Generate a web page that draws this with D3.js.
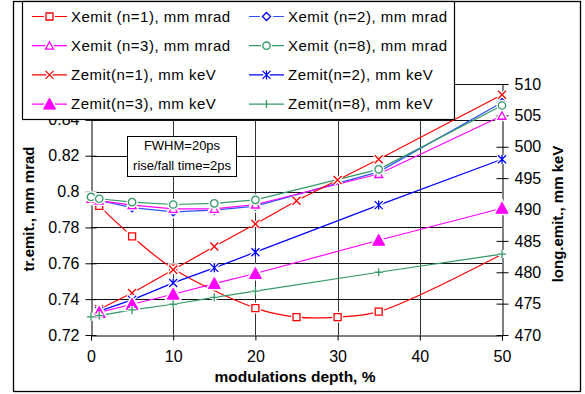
<!DOCTYPE html>
<html>
<head>
<meta charset="utf-8">
<script src="https://cdn.jsdelivr.net/npm/d3@7"></script>
<style>
    body { margin: 0; background: #fff; }
    text { font-family: Arial, "Liberation Sans", sans-serif; }
</style>
</head>
<body>
<script>
// modulation depth, %
var xN1_depth = [0, 1, 5, 10, 20, 25, 30, 35, 50];
var xN1_emit = [0.797, 0.792, 0.775, 0.757, 0.735, 0.730, 0.730, 0.733, 0.765];

var xN_depth = [0, 1, 5, 10, 15, 20, 35, 50];
var xN2_emit = [0.796, 0.795, 0.791, 0.7887, 0.7896, 0.7919, 0.811, 0.8497];
var xN3_emit = [0.796, 0.795, 0.7924, 0.7904, 0.7904, 0.7928, 0.8098, 0.8423];
var xN8_emit = [0.797, 0.796, 0.7941, 0.7928, 0.7934, 0.7954, 0.8124, 0.848];

var zN1_depth = [1, 5, 10, 15, 20, 25, 30, 35, 50];
var zN1_emit = [474.1, 476.7, 480.4, 484.1, 487.7, 491.4, 494.7, 498.0, 508.3];

var zN_depth = [1, 5, 10, 15, 20, 35, 50];
var zN2_emit = [473.8, 475.6, 478.3, 480.7, 483.2, 490.7, 498.0];
var zN3_emit = [473.6, 474.9, 476.5, 478.2, 479.8, 485.1, 490.2];

var zN8_depth = [0, 1, 5, 10, 15, 20, 35, 50];
var zN8_emit = [472.9, 473.1, 474.0, 474.9, 476.0, 477.0, 480.0, 482.9];

var xTicks = [0, 10, 20, 30, 40, 50];
var leftTicks = [0.72, 0.74, 0.76, 0.78, 0.8, 0.82, 0.84, 0.86];
var rightTicks = [470, 475, 480, 485, 490, 495, 500, 505, 510];

var seriesNames = ["Xemit (n=1), mm mrad", "Xemit (n=2), mm mrad", "Xemit (n=3), mm mrad", "Xemit (n=8), mm mrad",
    "Zemit(n=1), mm keV", "Zemit(n=2), mm keV", "Zemit(n=3), mm keV", "Zemit(n=8), mm keV"];

function zip(xs, ys) {
    return xs.map(function (d, i) { return [d, ys[i]]; });
}

var series = [
    {name: seriesNames[0], data: zip(xN1_depth, xN1_emit), axis: "L", color: "#ff0000", marker: "square", smooth: true, skipLast: true},
    {name: seriesNames[1], data: zip(xN_depth, xN2_emit), axis: "L", color: "#3050ff", mcolor: "#0000ff", marker: "diamond"},
    {name: seriesNames[2], data: zip(xN_depth, xN3_emit), axis: "L", color: "#ff00ff", marker: "triangle"},
    {name: seriesNames[3], data: zip(xN_depth, xN8_emit), axis: "L", color: "#339966", marker: "circle"},
    {name: seriesNames[4], data: zip(zN1_depth, zN1_emit), axis: "R", color: "#ff0000", marker: "x"},
    {name: seriesNames[5], data: zip(zN_depth, zN2_emit), axis: "R", color: "#0000ff", marker: "star"},
    {name: seriesNames[6], data: zip(zN_depth, zN3_emit), axis: "R", color: "#ff00ff", marker: "tri_fill"},
    {name: seriesNames[7], data: zip(zN8_depth, zN8_emit), axis: "R", color: "#339966", marker: "plus"}
];

var w = 585, h = 394;
var svg = d3.select("body").append("svg")
    .attr("width", w)
    .attr("height", h);

var x = d3.scaleLinear().domain([0, 50]).range([91, 502]);
var yL = d3.scaleLinear().domain([0.72, 0.86]).range([335, 84]);
var yR = d3.scaleLinear().domain([470, 510]).range([335, 84]);

// outer frame
svg.append("rect")
    .attr("x", 13.5).attr("y", 1.5)
    .attr("width", 567).attr("height", 390)
    .attr("fill", "#fff")
    .attr("stroke", "#000")
    .attr("stroke-width", 1.3);

// grid
svg.append("g").selectAll("line")
    .data(leftTicks.slice(1))
    .enter().append("line")
    .attr("x1", x(0)).attr("x2", x(50))
    .attr("y1", function (d) { return Math.round(yL(d)) + 0.5; })
    .attr("y2", function (d) { return Math.round(yL(d)) + 0.5; })
    .attr("stroke", "#111");

svg.append("g").selectAll("line")
    .data(xTicks.slice(1, -1))
    .enter().append("line")
    .attr("x1", function (d) { return Math.round(x(d)) + 0.5; })
    .attr("x2", function (d) { return Math.round(x(d)) + 0.5; })
    .attr("y1", yL(0.86)).attr("y2", yL(0.72))
    .attr("stroke", "#333");

// axes
var axL = svg.append("g")
    .attr("transform", "translate(" + (Math.round(x(0)) + 0.5) + ",0)")
    .call(d3.axisLeft(yL).tickValues(leftTicks).tickSizeInner(5).tickSizeOuter(0).tickPadding(8)
        .tickFormat(function (d) { return d3.format("")(+d.toFixed(2)); }));
axL.selectAll(".tick line").attr("x2", 5).attr("x1", -6).attr("stroke", "#000");
axL.selectAll(".tick text").attr("x", -12);
axL.select(".tick:last-of-type text").remove();

var axR = svg.append("g")
    .attr("transform", "translate(" + (Math.round(x(50)) + 0.5) + ",0)")
    .call(d3.axisRight(yR).tickValues(rightTicks).tickSizeOuter(0));
axR.selectAll(".tick line").attr("x1", -6).attr("x2", 6).attr("stroke", "#000");
axR.selectAll(".tick text").attr("x", 12);

var axB = svg.append("g")
    .attr("transform", "translate(0," + (Math.round(yL(0.72)) + 0.5) + ")")
    .call(d3.axisBottom(x).tickValues(xTicks).tickSizeOuter(0).tickSize(5).tickPadding(10));
axB.selectAll(".tick line").attr("stroke", "#000");

svg.selectAll(".domain").attr("stroke", "#000");
svg.selectAll(".tick text")
    .style("font-size", "16px")
    .attr("fill", "#000")
    .style("font-family", "Arial, 'Liberation Sans', sans-serif");

// axis titles
svg.append("text")
    .attr("transform", "translate(34,209) rotate(-90)")
    .attr("text-anchor", "middle")
    .style("font-size", "15px").style("font-weight", "bold")
    .text("tr.emit., mm mrad");

svg.append("text")
    .attr("transform", "translate(563,214) rotate(-90)")
    .attr("text-anchor", "middle")
    .style("font-size", "15px").style("font-weight", "bold")
    .text("long.emit., mm keV");

svg.append("text")
    .attr("x", 295).attr("y", 382)
    .attr("text-anchor", "middle")
    .style("font-size", "15.5px").style("font-weight", "bold")
    .text("modulations depth, %");

// note box
svg.append("rect")
    .attr("x", 127.5).attr("y", 136.5)
    .attr("width", 109).attr("height", 40)
    .attr("fill", "#fff").attr("stroke", "#000");
svg.append("text")
    .attr("x", 182).attr("y", 150)
    .attr("text-anchor", "middle").style("font-size", "13px")
    .text("FWHM=20ps");
svg.append("text")
    .attr("x", 182).attr("y", 170)
    .attr("text-anchor", "middle").style("font-size", "13px")
    .text("rise/fall time=2ps");

function markerPath(type) {
    var p = d3.path();
    if (type == "square") {
        p.rect(-3.5, -3.5, 7, 7);
    } else if (type == "diamond") {
        p.moveTo(0, -4); p.lineTo(4, 0); p.lineTo(0, 4); p.lineTo(-4, 0); p.closePath();
    } else if (type == "triangle") {
        p.moveTo(0, -4); p.lineTo(4, 3.5); p.lineTo(-4, 3.5); p.closePath();
    } else if (type == "tri_fill") {
        p.moveTo(0, -6); p.lineTo(6, 5); p.lineTo(-6, 5); p.closePath();
    } else if (type == "circle") {
        p.arc(0, 0, 3.7, 0, 2 * Math.PI);
    } else if (type == "x") {
        p.moveTo(-4, -4); p.lineTo(4, 4); p.moveTo(4, -4); p.lineTo(-4, 4);
    } else if (type == "star") {
        p.moveTo(-4, -4); p.lineTo(4, 4); p.moveTo(4, -4); p.lineTo(-4, 4);
        p.moveTo(0, -4.5); p.lineTo(0, 4.5);
    } else if (type == "plus") {
        p.moveTo(-4, 0); p.lineTo(4, 0); p.moveTo(0, -4); p.lineTo(0, 4);
    }
    return p.toString();
}

function drawMarker(g, type, color, px, py) {
    var open = ["square", "diamond", "triangle", "circle"].indexOf(type) >= 0;
    var filled = type == "tri_fill";
    // white halo cuts the line around the marker
    g.append("path")
        .attr("transform", "translate(" + px + "," + py + ")")
        .attr("d", markerPath(type))
        .attr("fill", open || filled ? "#fff" : "none")
        .attr("stroke", "#fff")
        .attr("stroke-width", 4);
    g.append("path")
        .attr("transform", "translate(" + px + "," + py + ")")
        .attr("d", markerPath(type))
        .attr("fill", filled ? color : (open ? "#fff" : "none"))
        .attr("stroke", color)
        .attr("stroke-width", filled ? 1 : 1.3);
}

var plot = svg.append("g");
series.forEach(function (s) {
    var yS = s.axis == "L" ? yL : yR;
    var line = d3.line()
        .x(function (d) { return x(d[0]); })
        .y(function (d) { return yS(d[1]); })
        .curve(s.smooth ? d3.curveCatmullRom.alpha(0.5) : d3.curveLinear);
    plot.append("path")
        .datum(s.data)
        .attr("d", line)
        .attr("fill", "none")
        .attr("stroke", s.color)
        .attr("stroke-width", 1.2);
});
series.forEach(function (s) {
    var yS = s.axis == "L" ? yL : yR;
    var g = plot.append("g");
    s.data.forEach(function (d, i) {
        if (s.skipLast && i == s.data.length - 1) return;
        drawMarker(g, s.marker, s.mcolor || s.color, x(d[0]), yS(d[1]));
    });
});

// legend
var legend = svg.append("g");
legend.append("rect")
    .attr("x", 22.5).attr("y", 1.5)
    .attr("width", 432).attr("height", 118)
    .attr("fill", "#fff")
    .attr("stroke", "#000")
    .attr("stroke-width", 1.2);

series.forEach(function (s, i) {
    var col = i % 2, row = Math.floor(i / 2);
    var lx = col == 0 ? 32 : 249;
    var ly = 16.5 + row * 29.2;
    var g = legend.append("g");
    g.append("line")
        .attr("x1", lx).attr("x2", lx + 35)
        .attr("y1", ly).attr("y2", ly)
        .attr("stroke", s.color).attr("stroke-width", 1.2);
    drawMarker(g, s.marker, s.mcolor || s.color, lx + 17.5, ly);
    g.append("text")
        .attr("x", lx + 39).attr("y", ly + 5)
        .style("font-size", "15px")
        .style("letter-spacing", "0.5px")
        .text(s.name);
});
</script>
</body>
</html>
